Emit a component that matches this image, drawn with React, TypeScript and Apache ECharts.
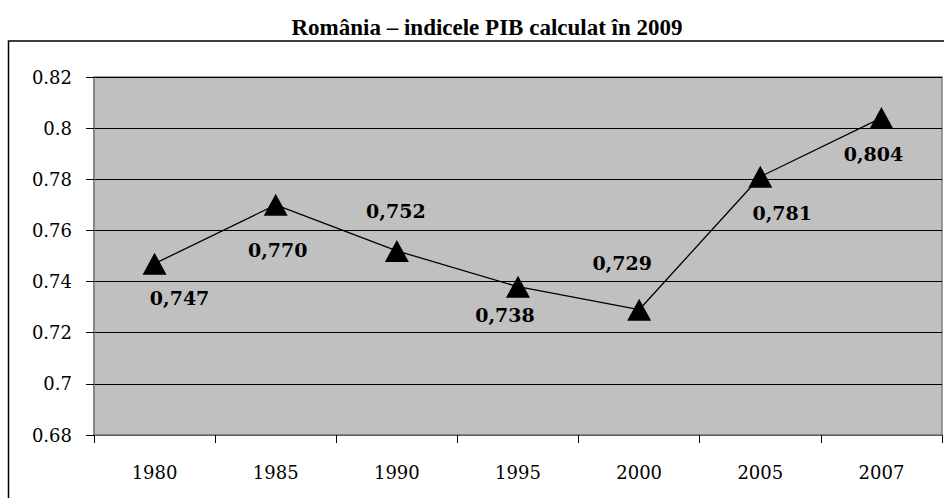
import React, { useEffect, useRef } from "react";
import * as echarts from "echarts";

const years = ["1980", "1985", "1990", "1995", "2000", "2005", "2007"];
const values = [0.747, 0.77, 0.752, 0.738, 0.729, 0.781, 0.804];
const labelTexts = ["0,747", "0,770", "0,752", "0,738", "0,729", "0,781", "0,804"];
const labelOffsets: [number, number][] = [
  [25, 34],
  [2, 45],
  [-1, -40],
  [-13, 28],
  [-17, -47],
  [22, 36],
  [-8, 36],
];
const title = "România – indicele PIB calculat în 2009";

export default function App() {
  const ref = useRef<HTMLDivElement>(null);
  useEffect(() => {
    if (!ref.current) return;
    const chart = echarts.init(ref.current, null, { renderer: "svg" });
    const serif = "'DejaVu Serif', serif";
    chart.setOption({
      animation: false,
      backgroundColor: "#ffffff",
      title: {
        text: title,
        left: 482,
        textAlign: "center",
        top: 11,
        textStyle: {
          fontFamily: "'Liberation Serif', 'Times New Roman', serif",
          fontWeight: "bold",
          fontSize: 23,
          color: "#000",
        },
      },
      graphic: [
        {
          type: "rect",
          shape: { x: 8.5, y: 41, width: 960, height: 500 },
          style: { fill: "none", stroke: "#000", lineWidth: 1.5 },
          z: 0,
        },
      ],
      grid: {
        left: 94,
        right: 2,
        top: 77,
        bottom: 63,
        show: true,
        backgroundColor: "#c0c0c0",
        borderColor: "#808080",
        borderWidth: 1.5,
      },
      xAxis: {
        type: "category",
        data: years,
        boundaryGap: true,
        axisLine: { show: true, lineStyle: { color: "#808080", width: 1.5 } },
        axisTick: { show: true, length: 8, lineStyle: { color: "#000" } },
        axisLabel: {
          fontFamily: serif,
          fontSize: 18,
          color: "#000",
          margin: 28,
        },
      },
      yAxis: {
        type: "value",
        min: 0.68,
        max: 0.82,
        interval: 0.02,
        axisLine: { show: true, lineStyle: { color: "#808080", width: 1.5 } },
        axisTick: { show: true, length: 8, lineStyle: { color: "#000" } },
        splitLine: { show: true, lineStyle: { color: "#000", width: 1 } },
        axisLabel: {
          fontFamily: serif,
          fontSize: 18,
          color: "#000",
          margin: 22,
          formatter: (v: number) => String(parseFloat(v.toFixed(2))),
        },
      },
      series: [
        {
          type: "line",
          data: values.map((v, i) => ({
            value: v,
            label: {
              show: true,
              position: "inside",
              offset: labelOffsets[i],
              formatter: labelTexts[i],
            },
          })),
          symbol: "triangle",
          symbolSize: [24, 22],
          itemStyle: { color: "#000" },
          lineStyle: { color: "#000", width: 1.3 },
          label: {
            show: true,
            fontFamily: serif,
            fontWeight: "bold",
            fontSize: 19,
            color: "#000",
            align: "center",
            verticalAlign: "middle",
          },
          z: 5,
        },
      ],
    });
    return () => chart.dispose();
  }, []);
  return (
    <div
      ref={ref}
      style={{ position: "fixed", left: 0, top: 0, width: 944, height: 498 }}
    />
  );
}
